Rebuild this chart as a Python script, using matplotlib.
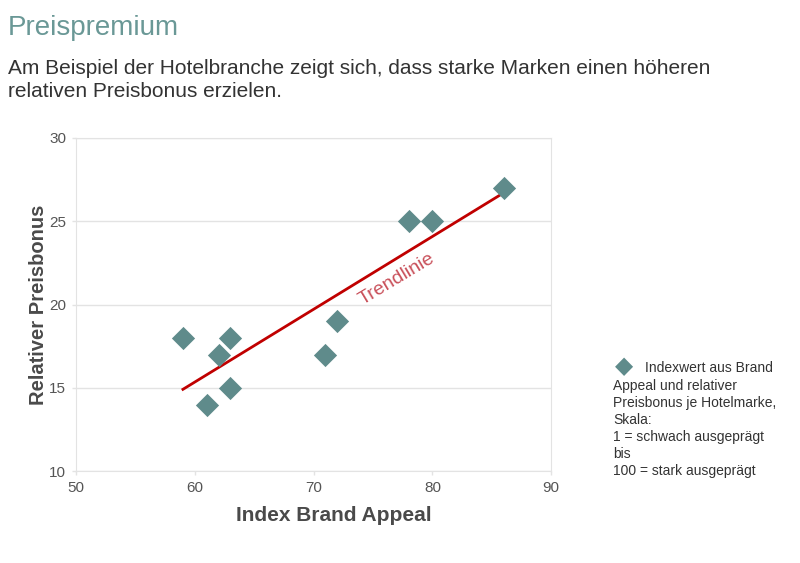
import numpy as np
import matplotlib.pyplot as plt

# Index Brand Appeal (x) vs. relativer Preisbonus (y), one point per hotel brand
brand_appeal = [59, 61, 62, 63, 63, 71, 72, 78, 80, 86]
preisbonus = [18, 14, 17, 18, 15, 17, 19, 25, 25, 27]

x_ticks = [50, 60, 70, 80, 90]
y_ticks = [10, 15, 20, 25, 30]

TEAL = "#5f8b8b"
RED = "#c00000"
GRID = "#e3e3e3"
INK = "#4a4a4a"

plt.rcParams["font.family"] = ["Liberation Sans", "DejaVu Sans"]

fig = plt.figure(figsize=(8.0, 5.63), dpi=100)
ax = fig.add_axes([0.095, 0.163, 0.594, 0.592])

x = np.array(brand_appeal, dtype=float)
y = np.array(preisbonus, dtype=float)

ax.scatter(x, y, marker="D", s=140, color=TEAL, zorder=3, linewidths=0)

# linear trend over the data range
k, d = np.polyfit(x, y, 1)
xt = np.array([x.min(), x.max()])
ax.plot(xt, k * xt + d, color=RED, lw=2, zorder=2)
ax.text(77.0, 21.5, "Trendlinie", color="#c9505a", fontsize=14,
        rotation=31, ha="center", va="center", rotation_mode="anchor")

ax.set_xlim(50, 90)
ax.set_ylim(10, 30)
ax.set_xticks(x_ticks)
ax.set_yticks(y_ticks)
ax.yaxis.grid(True, color=GRID, lw=1)
ax.set_axisbelow(True)
for s in ax.spines.values():
    s.set_color(GRID)
ax.tick_params(colors=GRID, labelcolor="#555555", labelsize=11, length=3, width=1, pad=4)

ax.set_xlabel("Index Brand Appeal", fontsize=15, fontweight="bold", color=INK)
ax.xaxis.set_label_coords(0.542, -0.105)
ax.set_ylabel("Relativer Preisbonus", fontsize=14.5, fontweight="bold", color=INK)
ax.yaxis.set_label_coords(-0.058, 0.5)

fig.text(0.010, 0.950, "Preispremium", fontsize=20, color="#6a9896", va="center")
fig.text(0.010, 0.858, "Am Beispiel der Hotelbranche zeigt sich, dass starke Marken einen höheren\n"
         "relativen Preisbonus erzielen.", fontsize=15, color="#333333", va="center",
         linespacing=1.25)

# legend box on the right
fig.text(624 / 800, 1 - 366 / 563, "\u25C6", fontsize=17, color=TEAL, va="center", ha="center",
         family=["DejaVu Sans"])
fig.text(645 / 800, 1 - 368 / 563, "Indexwert aus Brand", fontsize=10, color="#333333",
         va="center", ha="left")
fig.text(613 / 800, 1 - 379 / 563,
         "Appeal und relativer\nPreisbonus je Hotelmarke,\nSkala:\n"
         "1 = schwach ausgeprägt\nbis\n100 = stark ausgeprägt",
         fontsize=10, color="#333333", va="top", ha="left", linespacing=1.27)

fig.savefig("out.png", dpi=100)
